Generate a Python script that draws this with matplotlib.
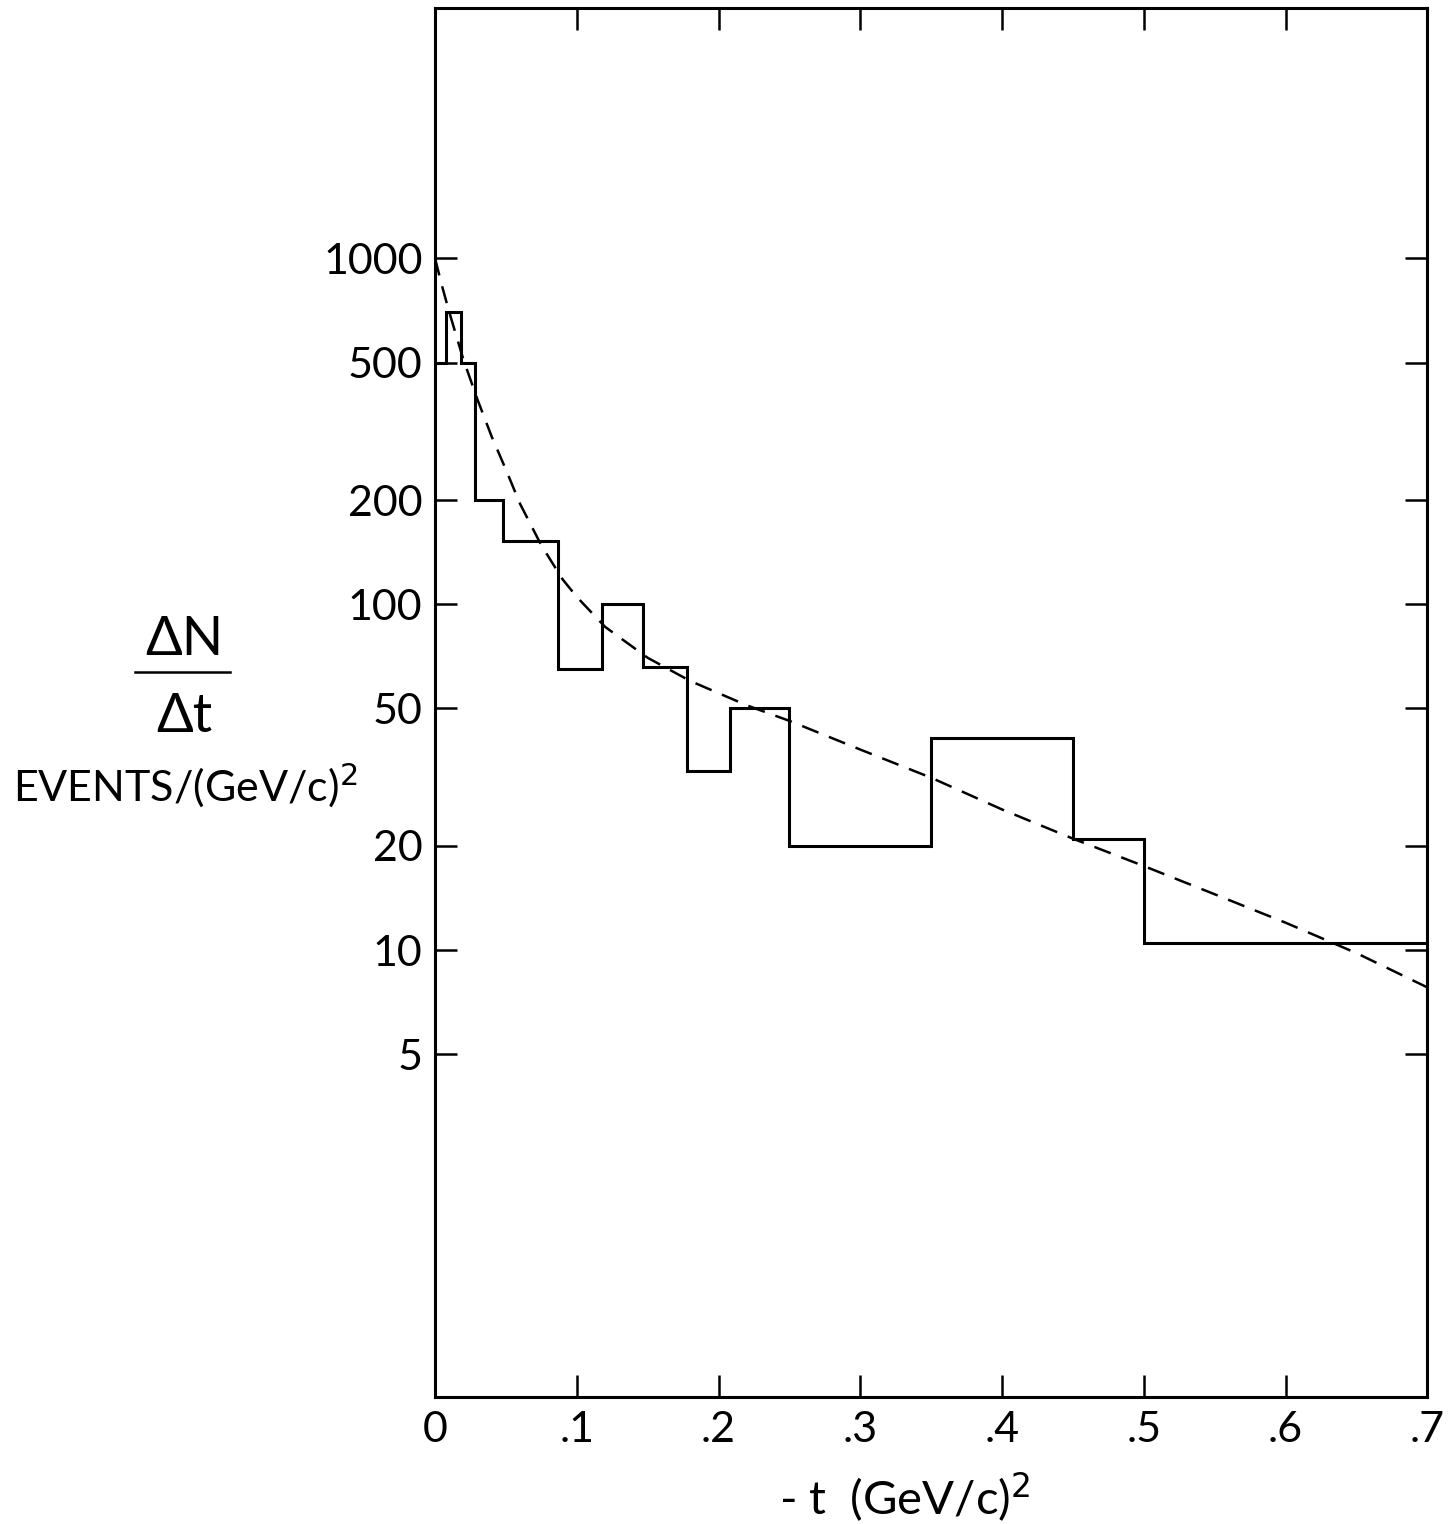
import matplotlib
matplotlib.use("Agg")
import matplotlib.pyplot as plt
from matplotlib.ticker import FixedLocator, NullLocator

# histogram bins of -t (GeV/c)^2 and dN/dt (events per (GeV/c)^2)
bin_edges = [0.0, 0.008, 0.018, 0.028, 0.048, 0.087, 0.118, 0.147, 0.178,
             0.208, 0.25, 0.35, 0.45, 0.50, 0.70]
bin_counts = [500, 700, 500, 200, 152, 65, 100, 66, 33, 50, 20, 41, 21, 10.5]

# dashed fit curve
fit_t = [0.0, 0.005, 0.01, 0.02, 0.03, 0.04, 0.05, 0.06, 0.075, 0.09, 0.1,
         0.12, 0.15, 0.18, 0.22, 0.25, 0.3, 0.35, 0.4, 0.45, 0.5, 0.55,
         0.6, 0.65, 0.7]
fit_val = [1000, 830, 700, 510, 390, 305, 245, 195, 148, 118, 105,
           86, 70, 60, 51, 46, 38, 31.5, 25.5, 21, 17.5, 14.5,
           12, 9.8, 7.8]

y_ticks = [5, 10, 20, 50, 100, 200, 500, 1000]
y_labels = ["5", "10", "20", "50", "100", "200", "500", "1000"]
x_ticks = [0, 0.1, 0.2, 0.3, 0.4, 0.5, 0.6, 0.7]
x_labels = ["0", ".1", ".2", ".3", ".4", ".5", ".6", ".7"]

plt.rcParams['font.family'] = ['Lato', 'DejaVu Sans']

fig = plt.figure(figsize=(14.55, 15.24), dpi=100)
ax = fig.add_axes([0.299, 0.0833, 0.682, 0.9115])

ax.stairs(bin_counts, bin_edges, baseline=None, color='black', linewidth=2.2)
ax.plot(fit_t, fit_val, color='black', linewidth=1.8, dashes=(7, 4.5))

ax.set_yscale('log')
ax.set_xlim(0, 0.7)
ax.set_ylim(0.51, 5300)

ax.yaxis.set_major_locator(FixedLocator(y_ticks))
ax.yaxis.set_minor_locator(NullLocator())
ax.set_yticklabels(y_labels)
ax.set_xticks(x_ticks)
ax.set_xticklabels(x_labels)

ax.tick_params(direction='in', length=16, width=1.8, top=True, right=True,
               labelsize=31)
ax.tick_params(axis='y', pad=9)
ax.tick_params(axis='x', pad=10)
for s in ax.spines.values():
    s.set_linewidth(2.2)

ax.set_xlabel(r"- t  (GeV/c)$^2$", fontsize=34)
ax.xaxis.set_label_coords(0.473, -0.053)

# y label written as a fraction, left of the axis
fig.text(0.1265, 0.5705, "ΔN", fontsize=39, ha='center', va='baseline')
fig.add_artist(plt.Line2D([0.093, 0.158], [0.5591, 0.5591], color='black',
                          linewidth=1.8, transform=fig.transFigure))
fig.text(0.1265, 0.520, "Δt", fontsize=39, ha='center', va='baseline')
fig.text(0.009, 0.4738, r"EVENTS/(GeV/c)$^2$", fontsize=31, ha='left',
         va='baseline')

fig.savefig("out.png", dpi=100, facecolor='white')
